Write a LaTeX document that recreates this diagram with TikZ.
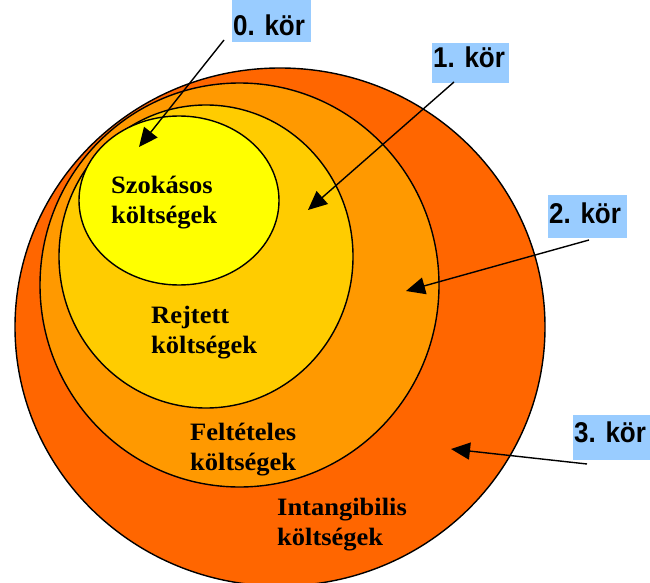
\documentclass[tikz,border=0pt]{standalone}
\usepackage{graphicx}
\usepackage{fontspec}
\setmainfont{Liberation Serif}
\newfontfamily\costfont[FakeStretch=1.06]{Liberation Serif}
\newfontfamily\korfont{Liberation Sans}
\usetikzlibrary{arrows.meta}
\definecolor{ringthree}{HTML}{FF6600}
\definecolor{ringtwo}{HTML}{FF9900}
\definecolor{ringone}{HTML}{FFCC00}
\definecolor{ringzero}{HTML}{FFFF00}
\definecolor{lblblue}{HTML}{99CCFF}
\newcommand{\kortext}[1]{\scalebox{1}[1.1]{#1}}
\begin{document}
\begin{tikzpicture}[x=1pt,y=-1pt,
  ring/.style={draw=black,line width=1.4pt},
  cost/.style={anchor=base west,inner sep=0pt,align=left,font=\costfont\fontsize{25}{30}\selectfont\bfseries},
  kor/.style={anchor=base west,inner sep=0pt,font=\korfont\fontsize{26}{30}\selectfont\bfseries},
  korbox/.style={fill=lblblue,draw=none,inner sep=0pt,anchor=north west},
  pointer/.style={line width=1.4pt,-{Triangle[length=19pt,width=17pt]}}]
\useasboundingbox (0,0) rectangle (650,583);
% rings
\filldraw[ring,fill=ringthree] (280,327) ellipse [x radius=265pt,y radius=259pt];
\filldraw[ring,fill=ringtwo] (239.5,285) ellipse [x radius=199.5pt,y radius=202pt];
\filldraw[ring,fill=ringone] (206,256.5) ellipse [x radius=147pt,y radius=151.5pt];
\filldraw[ring,fill=ringzero] (179,200.5) ellipse [x radius=100pt,y radius=84.5pt];
% ring texts (anchor is the baseline of the last line)
\node[cost] (c0) at (111,223) {Szokásos\\költségek};
\node[cost] (c1) at (151,353) {Rejtett\\költségek};
\node[cost] (c2) at (190,470) {Feltételes\\költségek};
\node[cost] (c3) at (277,545) {Intangibilis\\költségek};
% label boxes
\node[korbox,minimum width=79pt,minimum height=42pt] (b0) at (232,0) {};
\node[korbox,minimum width=77pt,minimum height=40pt] (b1) at (432,43) {};
\node[korbox,minimum width=79pt,minimum height=43pt] (b2) at (548,195) {};
\node[korbox,minimum width=77pt,minimum height=45pt] (b3) at (573,415) {};
\node[kor] (t0) at (233,36) {\kortext{0. kör}};
\node[kor] (t1) at (433,68) {\kortext{1. kör}};
\node[kor] (t2) at (549,223) {\kortext{2. kör}};
\node[kor] (t3) at (574,442) {\kortext{3. kör}};
% arrows
\coordinate (a0s) at (224,40);  \coordinate (a0t) at (139,147);
\coordinate (a1s) at (454,82);  \coordinate (a1t) at (308,210);
\coordinate (a2s) at (589,240); \coordinate (a2t) at (406,291);
\coordinate (a3s) at (587,464); \coordinate (a3t) at (451,449);
\draw[pointer] (a0s) -- (a0t);
\draw[pointer] (a1s) -- (a1t);
\draw[pointer] (a2s) -- (a2t);
\draw[pointer] (a3s) -- (a3t);
\end{tikzpicture}
\end{document}
